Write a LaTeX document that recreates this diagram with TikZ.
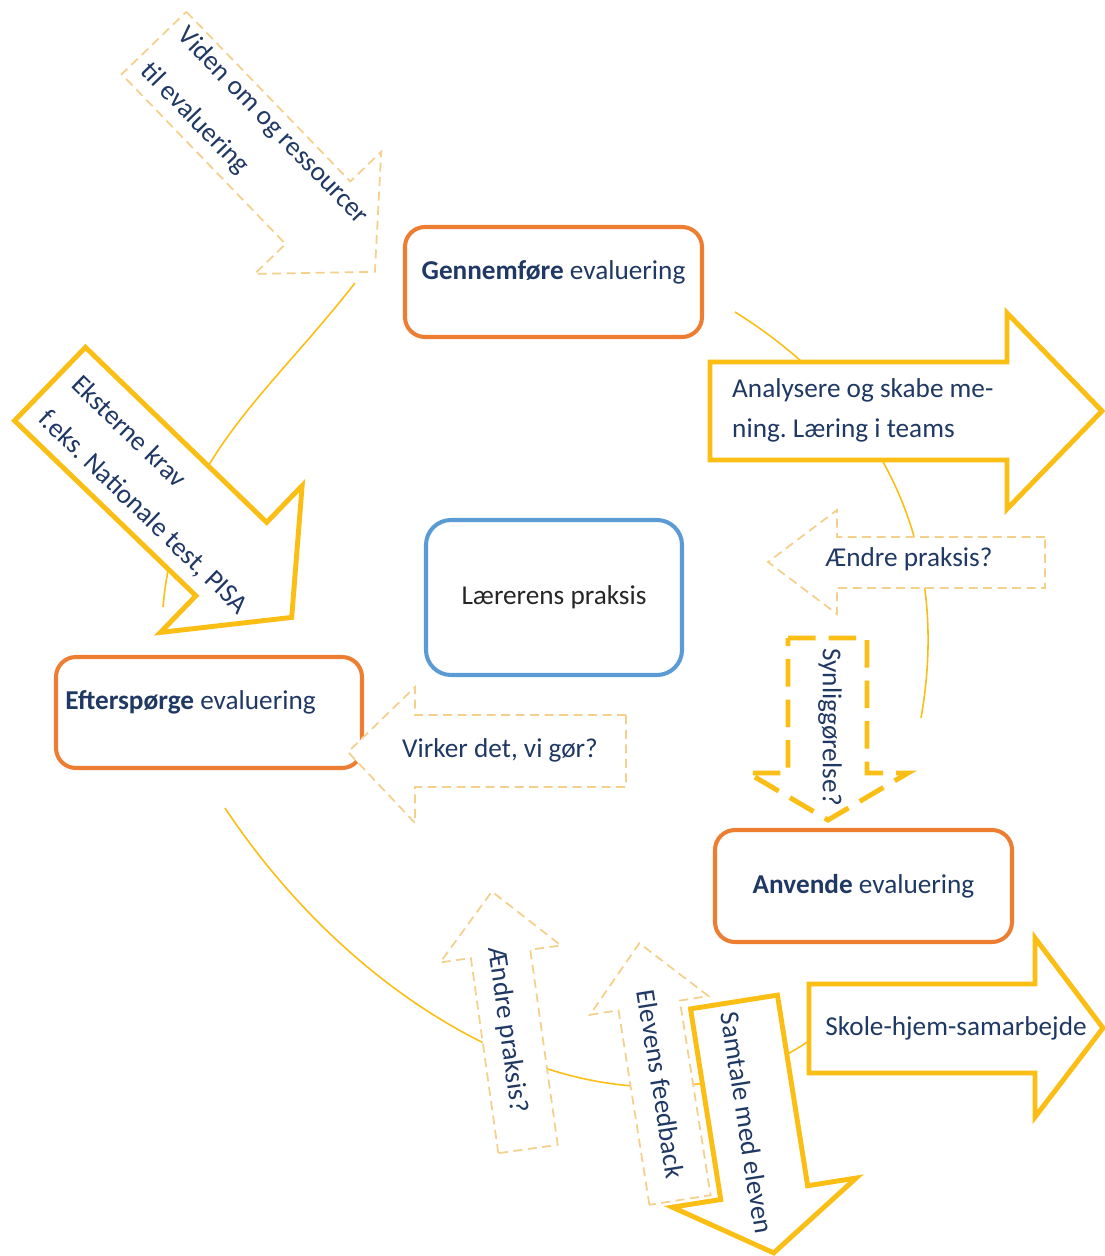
\documentclass[tikz,border=0pt]{standalone}
\usepackage{fontspec}
\setmainfont{Carlito}
\definecolor{navytext}{RGB}{31,56,100}
\definecolor{evalorange}{RGB}{237,125,49}
\definecolor{praxisblue}{RGB}{91,155,213}
\definecolor{arrowgold}{RGB}{250,190,20}
\definecolor{palegold}{RGB}{243,208,140}

\begin{document}
\frenchspacing
\begin{tikzpicture}[x=.2mm,y=-.2mm,font=\fontsize{15.5}{18.6}\selectfont,text=navytext,
  evalbox/.style={draw=evalorange,line width=2.3pt,rounded corners=4mm,fill=white,minimum width=59.4mm,minimum height=22mm},
  praxisbox/.style={draw=praxisblue,line width=2.3pt,rounded corners=5mm,fill=white,text=black!85},
  goldarrow/.style={draw=arrowgold,fill=white,line width=2.8pt},
  palearrow/.style={draw=palegold,fill=white,line width=1pt,dash pattern=on 1.8mm off 1.1mm},
  syncarrow/.style={draw=arrowgold,fill=white,line width=2.8pt,dash pattern=on 5.5mm off 2.6mm},
  cyclearc/.style={draw=arrowgold,line width=.9pt}]
\useasboundingbox (0,0) rectangle (1104,1256);

% the cycle behind everything
\coordinate (gen-r) at (735,312);
\coordinate (anv-t) at (921,718);
\coordinate (anv-b) at (830,1025);
\coordinate (eft-b) at (225,808);
\coordinate (eft-t) at (163,607);
\coordinate (gen-l) at (355,283);
\draw[cyclearc] (gen-r) to[out=-32,in=80] (anv-t);
\draw[cyclearc] (anv-b) .. controls (653,1172) and (379,1040) .. (eft-b);
\draw[cyclearc] (eft-t) to[out=85,in=-128] (gen-l);

% the four boxes (text depth lifts the text a little)
\node[evalbox,text depth=4.75mm] (gen) at (553.5,282) {\textbf{Gennemføre} evaluering};
\node[praxisbox,minimum width=51.2mm,minimum height=31mm] (praksis) at (554,597.5) {Lærerens praksis};
\node[evalbox,minimum width=61.2mm,minimum height=22.2mm,text width=57.4mm,align=flush left,text depth=5.15mm] (eft) at (209,712.5) {\textbf{Efterspørge} evaluering};
\node[evalbox,minimum height=22.4mm] (anv) at (863.5,886) {\textbf{Anvende} evaluering};

% Viden om og ressourcer
\begin{scope}[shift={(154,43)},rotate=-46]
\draw[palearrow] (0,-45) -- (236,-45) -- (236,-88) -- (318,0) -- (236,88) -- (236,45) -- (0,45) -- cycle;
\node[transform shape,anchor=west,align=left,font=\fontsize{15.5}{29}\selectfont] (viden) at (5,-2) {Viden om og ressourcer\\til evaluering};
\end{scope}

% Eksterne krav
\begin{scope}[shift={(50,384)},rotate=-44]
\draw[goldarrow] (0,-51) -- (252,-51) -- (252,-102) -- (336,0) -- (252,102) -- (252,51) -- (0,51) -- cycle;
\node[transform shape,anchor=west,align=left,font=\fontsize{15.5}{27}\selectfont] (krav) at (10,4) {Eksterne krav\\f.eks. Nationale test, PISA};
\end{scope}

% Analysere og skabe mening
\draw[goldarrow] (710,362) -- (1007,362) -- (1007,313) -- (1102,411) -- (1007,509) -- (1007,460) -- (710,460) -- cycle;
\node[anchor=west,align=left,font=\fontsize{15.5}{22.8}\selectfont] (analyse) at (726,410) {Analysere og skabe me-\\ning. Læring i teams};

% Ændre praksis (right)
\draw[palearrow] (1045,537) -- (837,537) -- (837,510) -- (768,562) -- (837,614) -- (837,588) -- (1045,588) -- cycle;
\node (aendreA) at (909,559) {Ændre praksis?};

% Synliggørelse
\draw[syncarrow] (788,638) -- (867,638) -- (867,773) -- (908,773) -- (828,820) -- (748,773) -- (788,773) -- cycle;
\node[rotate=-90] (synlig) at (830,727) {Synliggørelse?};

% Virker det, vi gør
\draw[palearrow] (626,715) -- (415,715) -- (415,687) -- (348,752) -- (415,823) -- (415,787) -- (626,787) -- cycle;
\node (virker) at (500,750) {Virker det, vi gør?};

% Ændre praksis (bottom)
\begin{scope}[shift={(528,1149)},rotate=98]
\draw[palearrow] (0,-30) -- (197,-30) -- (197,-61) -- (260,0) -- (197,61) -- (197,30) -- (0,30) -- cycle;
\end{scope}
\node[rotate=-82] (aendreB) at (507,1030) {Ændre praksis?};

% Elevens feedback
\begin{scope}[shift={(680,1200)},rotate=99]
\draw[palearrow] (0,-31) -- (197,-31) -- (197,-60) -- (260,0) -- (197,60) -- (197,31) -- (0,31) -- cycle;
\end{scope}
\node[rotate=-81] (feedback) at (661,1084) {Elevens feedback};

% Samtale med eleven
\begin{scope}[shift={(734,1002)},rotate=-81]
\draw[goldarrow] (0,-44) -- (193,-44) -- (193,-93) -- (254,0) -- (193,93) -- (193,44) -- (0,44) -- cycle;
\end{scope}
\node[rotate=-81] (samtale) at (747,1123) {Samtale med eleven};

% Skole-hjem-samarbejde
\draw[goldarrow] (809,984) -- (1035,984) -- (1035,938) -- (1103,1028) -- (1035,1117) -- (1035,1073) -- (809,1073) -- cycle;
\node (skole) at (956,1028) {Skole-hjem-samarbejde};
\end{tikzpicture}
\end{document}
